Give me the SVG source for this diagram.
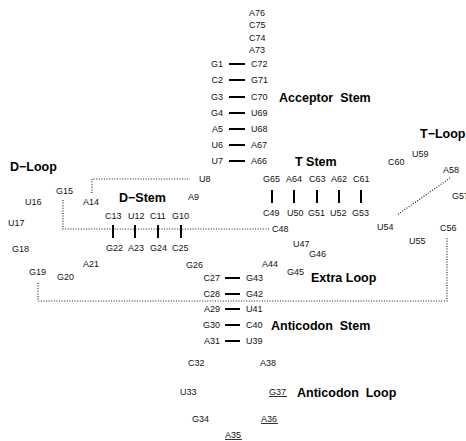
<svg xmlns="http://www.w3.org/2000/svg" width="466" height="441" viewBox="0 0 466 441">
<style>
.n{font-family:"Liberation Sans",Arial,sans-serif;font-size:9px;fill:#111}
.t{font-family:"Liberation Sans",Arial,sans-serif;font-size:12.5px;font-weight:bold;fill:#000}
.p{stroke:#000;stroke-width:2;fill:none}
.d{stroke:#222;stroke-width:1.2;stroke-dasharray:1 1.6;fill:none}
.u{stroke:#333;stroke-width:1;fill:none}
</style>
<g id="connectors">
<path class="p" d="M229 64H245M229 80H245M229 97H245M229 113H245M229 129H245M229 145H245M229 161H245"/>
<path class="p" d="M225 278H240M225 294H240M225 309H240M225 325H240M225 341H240"/>
<path class="p" d="M272 190V203M294 190V203M317 190V203M339 190V203M361 190V203"/>
<path class="p" d="M113 225V238M135 225V238M158 225V238M181 225V238"/>
<path class="d" d="M92 193V179H190"/>
<path class="d" d="M63 200V229H269"/>
<path class="d" d="M450 178L397 215"/>
<path class="d" d="M38 283V301H447V237"/>
<path class="u" d="M269 396.5H287M261 423.5H278M225 439.5H242"/>
</g>
<g id="A76"><text class="n" x="249" y="15.8">A76</text></g>
<g id="C75"><text class="n" x="249" y="28.3">C75</text></g>
<g id="C74"><text class="n" x="249" y="40.8">C74</text></g>
<g id="A73"><text class="n" x="249" y="53.3">A73</text></g>
<g id="G1"><text class="n" x="223" y="67.3" text-anchor="end">G1</text></g>
<g id="C72"><text class="n" x="251" y="67.3">C72</text></g>
<g id="C2"><text class="n" x="223" y="83.3" text-anchor="end">C2</text></g>
<g id="G71"><text class="n" x="251" y="83.3">G71</text></g>
<g id="G3"><text class="n" x="223" y="100.3" text-anchor="end">G3</text></g>
<g id="C70"><text class="n" x="251" y="100.3">C70</text></g>
<g id="G4"><text class="n" x="223" y="116.3" text-anchor="end">G4</text></g>
<g id="U69"><text class="n" x="251" y="116.3">U69</text></g>
<g id="A5"><text class="n" x="223" y="132.3" text-anchor="end">A5</text></g>
<g id="U68"><text class="n" x="251" y="132.3">U68</text></g>
<g id="U6"><text class="n" x="223" y="148.3" text-anchor="end">U6</text></g>
<g id="A67"><text class="n" x="251" y="148.3">A67</text></g>
<g id="U7"><text class="n" x="223" y="164.3" text-anchor="end">U7</text></g>
<g id="A66"><text class="n" x="251" y="164.3">A66</text></g>
<g id="U8"><text class="n" x="199" y="182.3">U8</text></g>
<g id="A9"><text class="n" x="188" y="200.3">A9</text></g>
<g id="G10"><text class="n" x="172" y="219.3">G10</text></g>
<g id="C11"><text class="n" x="150" y="219.3">C11</text></g>
<g id="U12"><text class="n" x="128" y="219.3">U12</text></g>
<g id="C13"><text class="n" x="105" y="219.3">C13</text></g>
<g id="A14"><text class="n" x="83" y="205.3">A14</text></g>
<g id="G15"><text class="n" x="56" y="194.3">G15</text></g>
<g id="U16"><text class="n" x="25" y="205.3">U16</text></g>
<g id="U17"><text class="n" x="8" y="226.3">U17</text></g>
<g id="G18"><text class="n" x="12" y="252.3">G18</text></g>
<g id="G19"><text class="n" x="29" y="275.3">G19</text></g>
<g id="G20"><text class="n" x="57" y="280.3">G20</text></g>
<g id="A21"><text class="n" x="83" y="267.3">A21</text></g>
<g id="G22"><text class="n" x="106" y="251.3">G22</text></g>
<g id="A23"><text class="n" x="128" y="251.3">A23</text></g>
<g id="G24"><text class="n" x="150" y="251.3">G24</text></g>
<g id="C25"><text class="n" x="172" y="251.3">C25</text></g>
<g id="G26"><text class="n" x="186" y="268.3">G26</text></g>
<g id="C27"><text class="n" x="220" y="281.3" text-anchor="end">C27</text></g>
<g id="G43"><text class="n" x="246" y="281.3">G43</text></g>
<g id="C28"><text class="n" x="220" y="297.3" text-anchor="end">C28</text></g>
<g id="G42"><text class="n" x="246" y="297.3">G42</text></g>
<g id="A29"><text class="n" x="220" y="312.3" text-anchor="end">A29</text></g>
<g id="U41"><text class="n" x="246" y="312.3">U41</text></g>
<g id="G30"><text class="n" x="220" y="328.3" text-anchor="end">G30</text></g>
<g id="C40"><text class="n" x="246" y="328.3">C40</text></g>
<g id="A31"><text class="n" x="220" y="344.3" text-anchor="end">A31</text></g>
<g id="U39"><text class="n" x="246" y="344.3">U39</text></g>
<g id="C32"><text class="n" x="188" y="366.3">C32</text></g>
<g id="A38"><text class="n" x="260" y="366.3">A38</text></g>
<g id="U33"><text class="n" x="180" y="395.3">U33</text></g>
<g id="G37"><text class="n" x="269" y="395.3">G37</text></g>
<g id="G34"><text class="n" x="192" y="422.3">G34</text></g>
<g id="A36"><text class="n" x="261" y="422.3">A36</text></g>
<g id="A35"><text class="n" x="225" y="438.3">A35</text></g>
<g id="A44"><text class="n" x="262" y="267.3">A44</text></g>
<g id="G45"><text class="n" x="287" y="275.3">G45</text></g>
<g id="G46"><text class="n" x="309" y="257.3">G46</text></g>
<g id="U47"><text class="n" x="293" y="247.3">U47</text></g>
<g id="C48"><text class="n" x="272" y="232.3">C48</text></g>
<g id="C49"><text class="n" x="263" y="216.3">C49</text></g>
<g id="U50"><text class="n" x="287" y="216.3">U50</text></g>
<g id="G51"><text class="n" x="308" y="216.3">G51</text></g>
<g id="U52"><text class="n" x="330" y="216.3">U52</text></g>
<g id="G53"><text class="n" x="352" y="216.3">G53</text></g>
<g id="U54"><text class="n" x="377" y="230.3">U54</text></g>
<g id="U55"><text class="n" x="409" y="244.3">U55</text></g>
<g id="C56"><text class="n" x="440" y="231.3">C56</text></g>
<g id="G57"><text class="n" x="452" y="199.3">G57</text></g>
<g id="A58"><text class="n" x="443" y="173.3">A58</text></g>
<g id="U59"><text class="n" x="412" y="157.3">U59</text></g>
<g id="C60"><text class="n" x="388" y="165.3">C60</text></g>
<g id="C61"><text class="n" x="353" y="182.3">C61</text></g>
<g id="A62"><text class="n" x="331" y="182.3">A62</text></g>
<g id="C63"><text class="n" x="309" y="182.3">C63</text></g>
<g id="A64"><text class="n" x="286" y="182.3">A64</text></g>
<g id="G65"><text class="n" x="263" y="182.3">G65</text></g>
<g id="label-acceptor"><text class="t" x="279" y="101.5" xml:space="preserve">Acceptor  Stem</text></g>
<g id="label-tstem"><text class="t" x="295" y="165.5">T Stem</text></g>
<g id="label-tloop"><text class="t" x="420" y="137.5">T−Loop</text></g>
<g id="label-dloop"><text class="t" x="10" y="170.5">D−Loop</text></g>
<g id="label-dstem"><text class="t" x="119" y="201.5">D−Stem</text></g>
<g id="label-extra"><text class="t" x="311" y="281.5">Extra Loop</text></g>
<g id="label-anticodon-stem"><text class="t" x="271" y="329.5" xml:space="preserve">Anticodon  Stem</text></g>
<g id="label-anticodon-loop"><text class="t" x="297" y="396.5" xml:space="preserve">Anticodon  Loop</text></g>
</svg>
